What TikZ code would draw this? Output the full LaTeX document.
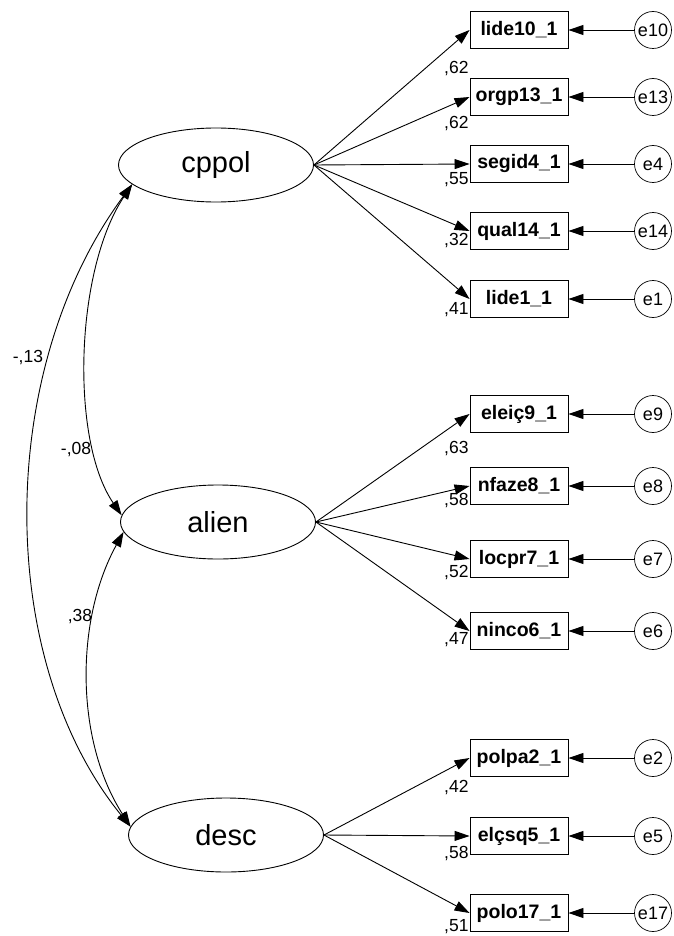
\documentclass[tikz,border=0pt]{standalone}
\usepackage{fontspec}
\setmainfont{Liberation Sans}
\usetikzlibrary{arrows.meta,shapes.geometric}
\begin{document}
\begin{tikzpicture}[x=1pt,y=-1pt,line width=0.9pt,
 lat/.style={ellipse,draw,minimum width=195pt,minimum height=74pt,inner sep=0pt,font=\fontsize{29}{31}\selectfont},
 obs/.style={rectangle,draw,minimum width=98pt,minimum height=37pt,inner sep=0pt,font=\fontsize{19.5}{21}\selectfont\bfseries},
 err/.style={circle,draw,line width=0.7pt,minimum size=37pt,inner sep=0pt,font=\fontsize{18}{20}\selectfont},
 val/.style={inner sep=0pt,font=\fontsize{17.5}{19}\selectfont},
 arr/.style={-{Triangle[length=15pt,width=10pt]}},
 cov/.style={{Triangle[length=15pt,width=10pt]}-{Triangle[length=15pt,width=10pt]}}]
\useasboundingbox (0,0) rectangle (673,936);

% latent variables
\node[lat] (cppol) at (216,165) {cppol};
\node[lat] (alien) at (218,522) {alien};
\node[lat] (desc) at (226,835) {desc};

% observed variables
\node[obs] (v1) at (519,30) {lide10\_1};
\node[obs] (v2) at (519,97) {orgp13\_1};
\node[obs] (v3) at (519,164) {segid4\_1};
\node[obs] (v4) at (519,231) {qual14\_1};
\node[obs] (v5) at (519,299) {lide1\_1};
\node[obs] (v6) at (519,414) {eleiç9\_1};
\node[obs] (v7) at (519,486) {nfaze8\_1};
\node[obs] (v8) at (519,559) {locpr7\_1};
\node[obs] (v9) at (519,631) {ninco6\_1};
\node[obs] (v10) at (519,758) {polpa2\_1};
\node[obs] (v11) at (519,836) {elçsq5\_1};
\node[obs] (v12) at (519,913) {polo17\_1};

% errors
\node[err] (e1) at (653,30) {e10};
\node[err] (e2) at (653,97) {e13};
\node[err] (e3) at (653,164) {e4};
\node[err] (e4) at (653,231) {e14};
\node[err] (e5) at (653,299) {e1};
\node[err] (e6) at (653,414) {e9};
\node[err] (e7) at (653,486) {e8};
\node[err] (e8) at (653,559) {e7};
\node[err] (e9) at (653,631) {e6};
\node[err] (e10) at (653,758) {e2};
\node[err] (e11) at (653,836) {e5};
\node[err] (e12) at (653,913) {e17};

\foreach \i in {1,...,12} {\draw[arr] (e\i) -- (v\i);}

% loadings
\foreach \i in {1,...,5} {\draw[arr] (cppol.east) -- (v\i.west);}
\foreach \i in {6,...,9} {\draw[arr] (alien.east) -- (v\i.west);}
\foreach \i in {10,...,12} {\draw[arr] (desc.east) -- (v\i.west);}

% loading values
\node[val,anchor=east] (l1) at (469,69) {,62};
\node[val,anchor=east] (l2) at (469,124) {,62};
\node[val,anchor=east] (l3) at (469,180) {,55};
\node[val,anchor=east] (l4) at (469,241) {,32};
\node[val,anchor=east] (l5) at (469,310) {,41};
\node[val,anchor=east] (l6) at (469,449) {,63};
\node[val,anchor=east] (l7) at (469,501) {,58};
\node[val,anchor=east] (l8) at (469,573) {,52};
\node[val,anchor=east] (l9) at (469,640) {,47};
\node[val,anchor=east] (l10) at (469,787) {,42};
\node[val,anchor=east] (l11) at (469,853) {,58};
\node[val,anchor=east] (l12) at (469,927) {,51};

% covariances
\draw[cov] (cppol.193) .. controls (-5,370) and (-5,660) .. (desc.175);
\draw[cov] (cppol.193) .. controls (75,270) and (70,440) .. (alien.176);
\draw[cov] (alien.186) .. controls (75,620) and (75,740) .. (desc.175);

\node[val] (c1) at (28,358) {-,13};
\node[val] (c2) at (76,450) {-,08};
\node[val] (c3) at (80,617) {,38};
\end{tikzpicture}
\end{document}
